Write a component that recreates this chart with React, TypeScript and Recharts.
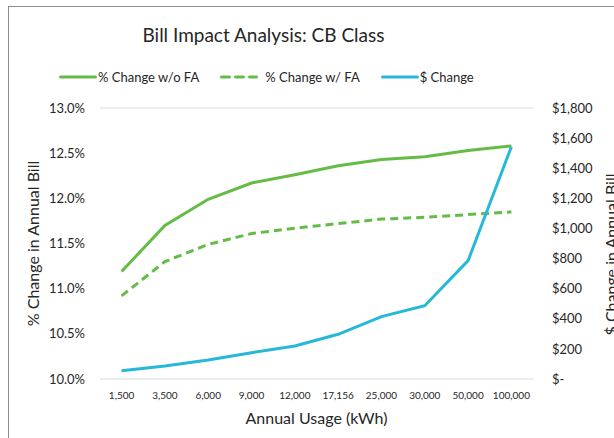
import { ComposedChart, Line, XAxis, YAxis, CartesianGrid } from 'recharts';

const usage = ['1,500', '3,500', '6,000', '9,000', '12,000', '17,156', '25,000', '30,000', '50,000', '100,000'];
const pctNoFA = [11.19, 11.7, 11.99, 12.17, 12.26, 12.36, 12.43, 12.46, 12.53, 12.58];
const pctWithFA = [10.92, 11.3, 11.49, 11.61, 11.67, 11.72, 11.77, 11.79, 11.82, 11.85];
const dollarChange = [55, 86, 126, 175, 219, 297, 414, 487, 786, 1543];

const pctTicks = [10, 10.5, 11, 11.5, 12, 12.5, 13];
const dollarTicks = [0, 200, 400, 600, 800, 1000, 1200, 1400, 1600, 1800];

const data = usage.map((u, i) => ({
  usage: u,
  noFA: pctNoFA[i],
  withFA: pctWithFA[i],
  dollars: dollarChange[i],
}));

const GREEN = '#64bc46';
const BLUE = '#26b8d8';
const FONT = 'Lato, "Open Sans", sans-serif';
const TEXT = '#262626';

const fmtDollar = (v: number) => (v === 0 ? '$-' : `$${v.toLocaleString('en-US')}`);

function LegendItem({ color, dashed, label }: { color: string; dashed?: boolean; label: string }) {
  return (
    <div style={{ display: 'flex', alignItems: 'center', gap: dashed ? 7 : 1 }}>
      <svg width={38} height={6}>
        <line
          x1={1.5}
          y1={3}
          x2={36.5}
          y2={3}
          stroke={color}
          strokeWidth={3}
          strokeLinecap="round"
          strokeDasharray={dashed ? '8 6' : undefined}
        />
      </svg>
      <span>{label}</span>
    </div>
  );
}

export default function App() {
  return (
    <div
      style={{
        position: 'fixed',
        left: 0,
        top: 0,
        width: 614,
        height: 438,
        overflow: 'hidden',
        background: '#fff',
        fontFamily: FONT,
        color: TEXT,
      }}
    >
      <div
        style={{
          position: 'absolute',
          left: 8,
          top: 6,
          width: 640,
          height: 460,
          border: '1px solid #8c8c8c',
        }}
      />
      <div
        style={{
          position: 'absolute',
          left: 0,
          width: 527,
          top: 23,
          textAlign: 'center',
          fontSize: 19,
        }}
      >
        Bill Impact Analysis: CB Class
      </div>
      <div
        style={{
          position: 'absolute',
          left: 59,
          top: 69,
          display: 'flex',
          gap: 21,
          fontSize: 13,
        }}
      >
        <LegendItem color={GREEN} label="% Change w/o FA" />
        <LegendItem color={GREEN} dashed label="% Change w/ FA" />
        <LegendItem color={BLUE} label="$ Change" />
      </div>
      <ComposedChart
        width={614}
        height={438}
        data={data}
        margin={{ top: 108, right: 0, left: 0, bottom: 0 }}
        style={{ position: 'absolute', left: 0, top: 0 }}
      >
        <CartesianGrid vertical={false} stroke="#d9d9d9" strokeWidth={1} />
        <XAxis
          dataKey="usage"
          axisLine={false}
          tickLine={false}
          height={59}
          tickSize={0}
          tickMargin={13}
          interval={0}
          padding={{ left: 21.6, right: 21.6 }}
          tick={{ fontSize: 10, fill: TEXT, fontFamily: FONT }}
          label={{ value: 'Annual Usage (kWh)', position: 'center', dy: 10, fontSize: 16, fill: TEXT, fontFamily: FONT }}
        />
        <YAxis
          yAxisId="pct"
          domain={[10, 13]}
          ticks={pctTicks}
          width={100}
          axisLine={false}
          tickLine={false}
          tickSize={0}
          tickMargin={15}
          tickFormatter={(v: number) => `${v.toFixed(1)}%`}
          tick={{ fontSize: 13, fill: TEXT, fontFamily: FONT }}
          label={{ value: '% Change in Annual Bill', angle: -90, position: 'center', dx: -17, fontSize: 16, fill: TEXT, fontFamily: FONT }}
        />
        <YAxis
          yAxisId="usd"
          orientation="right"
          domain={[0, 1800]}
          ticks={dollarTicks}
          width={81}
          axisLine={false}
          tickLine={false}
          tickSize={0}
          tickMargin={19}
          tickFormatter={fmtDollar}
          tick={{ fontSize: 13, fill: TEXT, fontFamily: FONT, textAnchor: 'start' }}
          label={{ value: '$ Change in Annual Bill', angle: -90, position: 'center', dx: 38, dy: 11, fontSize: 16, fill: TEXT, fontFamily: FONT }}
        />
        <Line
          yAxisId="pct"
          dataKey="noFA"
          stroke={GREEN}
          strokeWidth={3}
          dot={false}
          isAnimationActive={false}
        />
        <Line
          yAxisId="pct"
          dataKey="withFA"
          stroke={GREEN}
          strokeWidth={3}
          strokeDasharray="8 5"
          dot={false}
          isAnimationActive={false}
        />
        <Line
          yAxisId="usd"
          dataKey="dollars"
          stroke={BLUE}
          strokeWidth={3}
          dot={false}
          isAnimationActive={false}
        />
      </ComposedChart>
    </div>
  );
}
